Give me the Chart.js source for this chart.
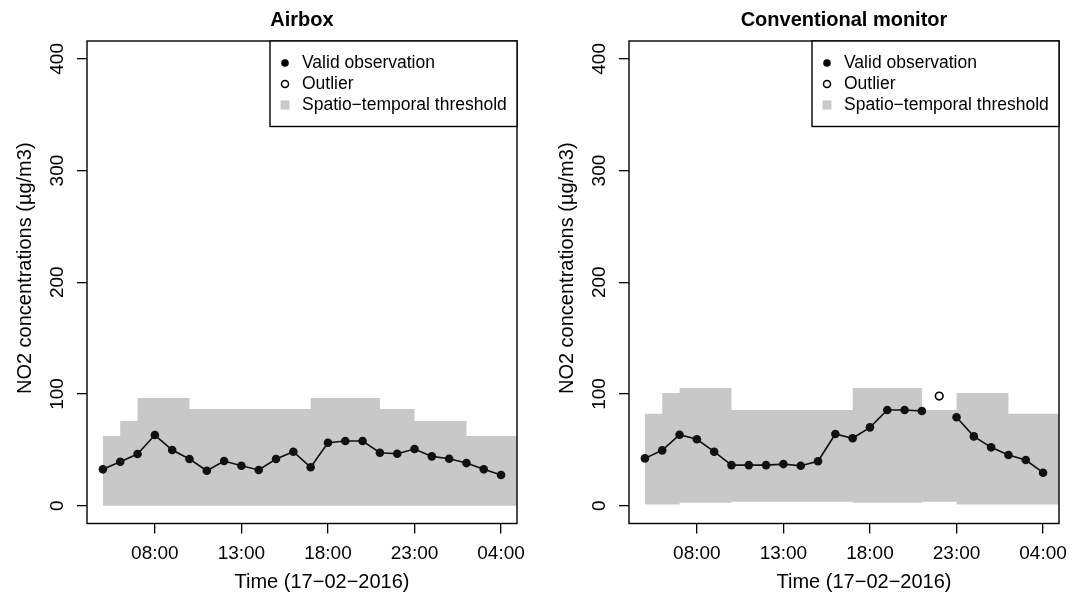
<!DOCTYPE html>
<html>
<head>
<meta charset="utf-8">
<script src="https://cdn.jsdelivr.net/npm/chart.js@4.4.1/dist/chart.umd.min.js"></script>
<style>
  html, body { margin: 0; padding: 0; background: #fff; }
  body { width: 1073px; height: 597px; position: relative; overflow: hidden; }
  canvas { position: absolute; top: 0; }
  #c1 { left: 0; }
  #c2 { left: 542px; }
</style>
</head>
<body>
<canvas id="c1" width="535" height="597"></canvas>
<canvas id="c2" width="535" height="597"></canvas>
<script>
// ---------- data ----------
const hours = ['05:00','06:00','07:00','08:00','09:00','10:00','11:00','12:00','13:00','14:00','15:00','16:00',
               '17:00','18:00','19:00','20:00','21:00','22:00','23:00','00:00','01:00','02:00','03:00','04:00'];
const xTickLabels = ['08:00','13:00','18:00','23:00','04:00'];
const yTicks = [0, 100, 200, 300, 400];
const legendLabels = ['Valid observation', 'Outlier', 'Spatio\u2212temporal threshold'];
const xAxisTitle = 'Time (17\u221202\u22122016)';
const yAxisTitle = 'NO2 concentrations (\u00b5g/m3)';

const airboxValid = [32.5, 39.3, 46.2, 63.2, 49.8, 41.7, 31.2, 39.9, 35.7, 31.9, 41.7, 48.3,
                     34.3, 56.3, 57.8, 57.8, 47.4, 46.5, 50.7, 44.1, 42.0, 38.1, 32.5, 27.4];
const airboxUpper = [62.3, 75.7, 96.3, 96.3, 96.3, 86.5, 86.5, 86.5, 86.5, 86.5, 86.5, 86.5,
                     96.3, 96.3, 96.3, 96.3, 86.5, 86.5, 75.7, 75.7, 75.7, 62.3, 62.3, 62.3];
const airboxLower = [0, 0, 0, 0, 0, 0, 0, 0, 0, 0, 0, 0,
                     0, 0, 0, 0, 0, 0, 0, 0, 0, 0, 0, 0];
const airboxOutlier = [null, null, null, null, null, null, null, null, null, null, null, null,
                       null, null, null, null, null, null, null, null, null, null, null, null];

const monitorValid = [42.3, 49.5, 63.5, 59.4, 48.3, 36.3, 36.3, 36.3, 37.2, 35.7, 39.7, 64.1,
                      60.3, 70.1, 85.6, 85.6, 84.7, null, 79.1, 62.0, 52.2, 45.3, 40.8, 29.5];
const monitorOutlier = [null, null, null, null, null, null, null, null, null, null, null, null,
                        null, null, null, null, null, 98.1, null, null, null, null, null, null];
const monitorUpper = [82.3, 100.8, 105.3, 105.3, 105.3, 85.6, 85.6, 85.6, 85.6, 85.6, 85.6, 85.6,
                      105.3, 105.3, 105.3, 105.3, 85.6, 85.6, 100.8, 100.8, 100.8, 82.3, 82.3, 82.3];
const monitorLower = [1, 1, 2.6, 2.6, 2.6, 3.5, 3.5, 3.5, 3.5, 3.5, 3.5, 3.5,
                      2.6, 2.6, 2.6, 2.6, 3.5, 3.5, 1, 1, 1, 1, 1, 1];

// ---------- style ----------
const FONT = '"Liberation Sans", Arial, Helvetica, sans-serif';
const SHADE = '#c8c8c8';
const INK = '#000';

function pts(arr) { return arr.map((v, i) => ({ x: i, y: v })); }
// step series: each hour's value holds until the next hour (extra point closes the last step)
function stepPts(arr) { const p = pts(arr); p.push({ x: arr.length, y: arr[arr.length - 1] }); return p; }

const boxPlugin = {
  id: 'rbox',
  afterDraw(chart) {
    const { ctx, chartArea: a } = chart;
    ctx.save();
    ctx.strokeStyle = INK; ctx.lineWidth = 1.4;
    ctx.strokeRect(a.left, a.top, a.right - a.left, a.bottom - a.top);
    // axis titles (placed as in the original figure)
    ctx.fillStyle = INK;
    ctx.font = '20px ' + FONT;
    ctx.textAlign = 'center'; ctx.textBaseline = 'middle';
    ctx.fillText(xAxisTitle, (a.left + a.right) / 2 + 20, 582.7);
    ctx.save();
    ctx.translate(25, (a.top + a.bottom) / 2 - 14);
    ctx.rotate(-Math.PI / 2);
    ctx.fillText(yAxisTitle, 0, 0);
    ctx.restore();
    // legend
    const w = 247, h = 85.5, x0 = a.right - w, y0 = a.top;
    ctx.fillStyle = '#fff'; ctx.fillRect(x0, y0, w, h);
    ctx.strokeRect(x0, y0, w, h);
    ctx.font = '17.5px ' + FONT;
    ctx.textBaseline = 'middle'; ctx.textAlign = 'left';
    legendLabels.forEach((t, i) => {
      const y = y0 + 22 + 21 * i, sx = x0 + 15;
      if (i === 0) { ctx.fillStyle = INK; ctx.beginPath(); ctx.arc(sx, y, 3.8, 0, Math.PI * 2); ctx.fill(); }
      if (i === 1) { ctx.strokeStyle = INK; ctx.lineWidth = 1.5; ctx.beginPath(); ctx.arc(sx, y, 3.5, 0, Math.PI * 2); ctx.stroke(); }
      if (i === 2) { ctx.fillStyle = SHADE; ctx.fillRect(sx - 4.5, y - 4.5, 9, 9); }
      ctx.fillStyle = INK;
      ctx.fillText(t, x0 + 32, y);
    });
    ctx.restore();
  }
};

function makeChart(id, title, valid, outlier, upper, lower) {
  const tickIdx = xTickLabels.map(l => hours.indexOf(l));
  return new Chart(document.getElementById(id), {
    type: 'line',
    data: {
      datasets: [
        { label: 'lower', data: stepPts(lower), stepped: 'before', borderWidth: 0, pointRadius: 0,
          fill: false, order: 5, borderColor: 'rgba(0,0,0,0)' },
        { label: legendLabels[2], data: stepPts(upper), stepped: 'before', borderWidth: 0, pointRadius: 0,
          fill: '-1', backgroundColor: SHADE, borderColor: 'rgba(0,0,0,0)', order: 4 },
        { label: legendLabels[0], data: pts(valid), borderColor: '#111', borderWidth: 1.6,
          pointRadius: 4.3, pointBackgroundColor: '#111', pointBorderWidth: 0, spanGaps: false, fill: false, order: 2 },
        { label: legendLabels[1], data: pts(outlier), showLine: false, pointRadius: 3.8,
          pointBackgroundColor: '#fff', pointBorderColor: INK, pointBorderWidth: 1.6, order: 1 }
      ]
    },
    options: {
      responsive: false,
      animation: false,
      events: [],
      layout: { padding: { left: 0, right: 18, top: 0, bottom: 0 } },
      plugins: {
        legend: { display: false },
        tooltip: { enabled: false },
        title: {
          display: true, text: title, fullSize: false, color: INK,
          font: { family: FONT, size: 20, weight: 'bold', lineHeight: 1.2 },
          padding: { top: 8, bottom: 9 }
        }
      },
      scales: {
        x: {
          type: 'linear', min: -0.92, max: 23.92,
          afterBuildTicks: s => { s.ticks = tickIdx.map(v => ({ value: v })); },
          afterFit: s => { s.height = 73.5; },
          ticks: { callback: v => hours[v], color: INK, padding: 9, maxRotation: 0, autoSkip: false,
                   font: { family: FONT, size: 19, lineHeight: 1.2 } },
          grid: { drawOnChartArea: false, drawTicks: true, tickLength: 10, color: INK, lineWidth: 1.3 },
          border: { display: false },
          title: { display: false }
        },
        y: {
          type: 'linear', min: -16, max: 416,
          afterBuildTicks: s => { s.ticks = yTicks.map(v => ({ value: v })); },
          afterFit: s => { s.width = 87; },
          ticks: { color: INK, padding: 3, minRotation: 90, maxRotation: 90, crossAlign: 'center',
                   font: { family: FONT, size: 19, lineHeight: 1.2 } },
          grid: { drawOnChartArea: false, drawTicks: true, tickLength: 10, color: INK, lineWidth: 1.3 },
          border: { display: false },
          title: { display: false }
        }
      }
    },
    plugins: [boxPlugin]
  });
}

makeChart('c1', 'Airbox', airboxValid, airboxOutlier, airboxUpper, airboxLower);
makeChart('c2', 'Conventional monitor', monitorValid, monitorOutlier, monitorUpper, monitorLower);
</script>
</body>
</html>
